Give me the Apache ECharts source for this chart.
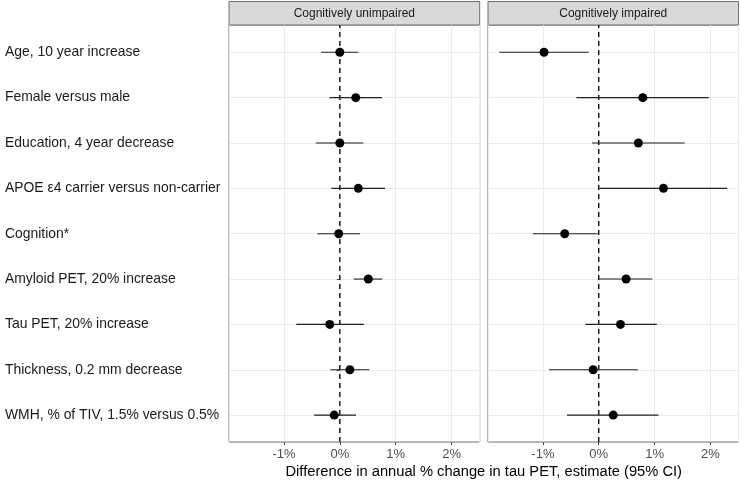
<!DOCTYPE html>
<html>
<head>
<meta charset="utf-8">
<script src="https://cdn.jsdelivr.net/npm/echarts@6/dist/echarts.min.js"></script>
<style>html,body{margin:0;padding:0;background:#fff;}#c{width:741px;height:482px;}</style>
</head>
<body>
<div id="c"></div>
<script>
const categories = [
  'Age, 10 year increase',
  'Female versus male',
  'Education, 4 year decrease',
  'APOE \u03b54 carrier versus non-carrier',
  'Cognition*',
  'Amyloid PET, 20% increase',
  'Tau PET, 20% increase',
  'Thickness, 0.2 mm decrease',
  'WMH, % of TIV, 1.5% versus 0.5%'
];
const panelTitles = ['Cognitively unimpaired', 'Cognitively impaired'];
const unimpEst  = [0.00, 0.285, 0.00, 0.33, -0.02, 0.51, -0.18, 0.18, -0.10];
const unimpLow  = [-0.33, -0.185, -0.43, -0.15, -0.40, 0.25, -0.78, -0.17, -0.46];
const unimpHigh = [0.33, 0.755, 0.42, 0.81, 0.36, 0.76, 0.43, 0.53, 0.29];
const impEst  = [-0.98, 0.79, 0.71, 1.16, -0.61, 0.49, 0.39, -0.10, 0.26];
const impLow  = [-1.78, -0.40, -0.12, 0.01, -1.18, 0.01, -0.24, -0.89, -0.57];
const impHigh = [-0.18, 1.97, 1.54, 2.30, -0.02, 0.96, 1.04, 0.70, 1.07];
const xTitle = 'Difference in annual % change in tau PET, estimate (95% CI)';
const xMin = -1.984, xMax = 2.504;

const FONT = 'Liberation Sans, Arial, Helvetica, sans-serif';
const panels = [
  {left: 229, width: 250.7},
  {left: 488, width: 250.5}
];
const frameTop = 25, frameH = 417;
const dataTop = 52.3, dataH = 362.8;

const grids = [], xAxes = [], yAxes = [], series = [], graphics = [];
const sets = [[unimpEst, unimpLow, unimpHigh], [impEst, impLow, impHigh]];

panels.forEach((p, i) => {
  grids.push({left: p.left, top: frameTop, width: p.width, height: frameH, show: true,
    borderColor: '#6e6e6e', borderWidth: 1, backgroundColor: 'transparent'});
  grids.push({left: p.left, top: dataTop, width: p.width, height: dataH, show: false});
  const fg = i * 2, dg = i * 2 + 1;
  xAxes.push({gridIndex: fg, type: 'value', min: xMin, max: xMax, splitNumber: 5,
    axisLine: {show: false},
    axisTick: {show: true, length: 3, lineStyle: {color: '#444'}},
    axisLabel: {show: true, showMinLabel: false, showMaxLabel: false, color: '#4d4d4d',
      fontFamily: FONT, fontSize: 13, margin: 6, formatter: v => Math.round(v) + '%'},
    splitLine: {show: true, lineStyle: {color: '#ebebeb', width: 1}}
  });
  xAxes.push({gridIndex: dg, type: 'value', min: xMin, max: xMax, show: false,
    splitLine: {show: false}});
  yAxes.push({gridIndex: fg, type: 'value', min: 0, max: 1, show: false, splitLine: {show: false}});
  yAxes.push({gridIndex: dg, type: 'category', data: categories, inverse: true, boundaryGap: false,
    axisLine: {show: false},
    axisTick: {show: i === 0, length: 3, alignWithLabel: true, lineStyle: {color: '#444'}},
    axisLabel: i === 0 ? {show: true, align: 'left', margin: 224, color: '#1a1a1a',
      fontFamily: FONT, fontSize: 13.9} : {show: false},
    splitLine: {show: true, lineStyle: {color: '#ebebeb', width: 1}}
  });
  series.push({type: 'line', xAxisIndex: fg, yAxisIndex: fg, data: [[0, 0], [0, 1]],
    symbol: 'none', lineStyle: {color: '#111', width: 1.4, type: [5, 4]}, silent: true, z: 3});
  const [est, lo, hi] = sets[i];
  series.push({type: 'custom', xAxisIndex: dg, yAxisIndex: dg, z: 4,
    data: categories.map((c, k) => [k, lo[k], hi[k]]),
    encode: {x: [1, 2], y: 0},
    renderItem: function (params, api) {
      const y = api.value(0);
      const a = api.coord([api.value(1), y]);
      const b = api.coord([api.value(2), y]);
      return {type: 'line', shape: {x1: a[0], y1: a[1], x2: b[0], y2: b[1]},
        style: {stroke: '#1f1f1f', lineWidth: 1.1}};
    }
  });
  series.push({type: 'scatter', xAxisIndex: dg, yAxisIndex: dg, z: 5,
    data: categories.map((c, k) => [est[k], c]),
    symbol: 'circle', symbolSize: 9, itemStyle: {color: '#000', opacity: 1}});
  graphics.push({type: 'rect', shape: {x: p.left, y: 1.5, width: p.width, height: 23.5},
    style: {fill: '#d9d9d9', stroke: '#6e6e6e', lineWidth: 1}});
  graphics.push({type: 'text', x: p.left + p.width / 2, y: 13.5,
    style: {text: panelTitles[i], fill: '#1a1a1a', font: '12px ' + FONT,
      textAlign: 'center', textVerticalAlign: 'middle'}});
});

graphics.push({type: 'text', x: (229 + 738.5) / 2, y: 471.5,
  style: {text: xTitle, fill: '#000', font: '14.7px ' + FONT, textAlign: 'center', textVerticalAlign: 'middle'}});

const chart = echarts.init(document.getElementById('c'), null, {renderer: 'canvas'});
chart.setOption({
  animation: false,
  backgroundColor: '#fff',
  grid: grids, xAxis: xAxes, yAxis: yAxes, series: series, graphic: graphics
});
</script>
</body>
</html>
